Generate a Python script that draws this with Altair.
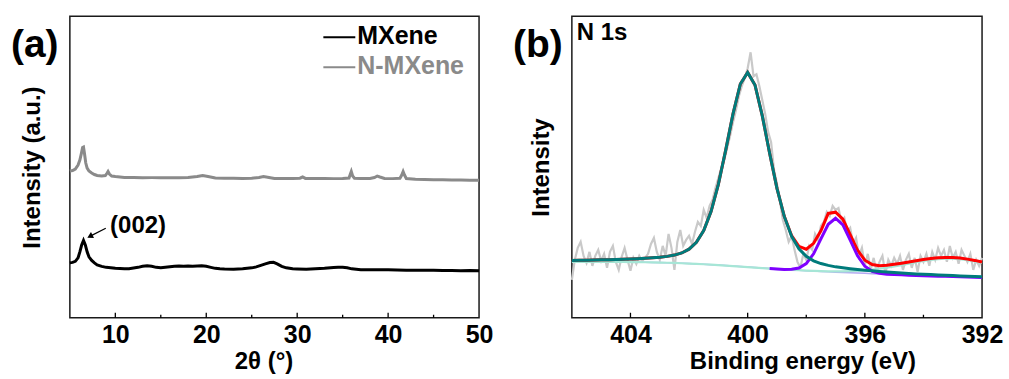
import altair as alt
import pandas as pd

# ---------------- (a) XRD data (2theta in degrees, intensity in arbitrary units) ----------------
mxene_pts = [(5.0, 55), (5.3, 55.5), (5.6, 56.5), (5.9, 60), (6.1, 66), (6.3, 73), (6.5, 77.5),
             (6.7, 73), (6.9, 66), (7.1, 61), (7.4, 57.5), (7.7, 55), (8.0, 53), (8.5, 51.5),
             (9.0, 50.5), (9.5, 50), (10.0, 49.5), (10.5, 49.3), (11.0, 49), (11.5, 49.2),
             (12.0, 49.8), (12.5, 50.5), (13.0, 51.5), (13.5, 52), (14.0, 51.5), (14.5, 50.5),
             (15.0, 50), (15.5, 50.5), (16.0, 51), (16.5, 51.5), (17.0, 51.8), (17.5, 51.5),
             (18.0, 51.8), (18.5, 51.5), (19.0, 51.8), (19.5, 52), (20.0, 51.5), (20.5, 50.5),
             (21.0, 49.5), (21.5, 49), (22.0, 48.8), (23.0, 48.7), (24.0, 49), (24.5, 49.5),
             (25.0, 50), (25.5, 51), (26.0, 52.5), (26.5, 54), (27.0, 55.3), (27.4, 55.5),
             (27.8, 54), (28.3, 51.5), (28.8, 50), (29.5, 49), (30.0, 48.8), (31.0, 48.6),
             (32.0, 49), (33.0, 49.5), (34.0, 50.3), (34.5, 50.5), (35.0, 50.5), (35.5, 50),
             (36.0, 49), (37.0, 48.2), (38.0, 48), (39.0, 48), (40.0, 48), (41.0, 47.8),
             (42.0, 47.7), (43.0, 47.5), (44.0, 47.6), (45.0, 47.5), (46.0, 47.3), (47.0, 47.4),
             (48.0, 47.2), (49.0, 47.3), (50.0, 47)]

nmxene_pts = [(5.0, 147), (5.3, 147.5), (5.6, 149), (5.9, 153), (6.1, 158), (6.25, 164),
              (6.4, 170.5), (6.5, 171), (6.6, 165), (6.75, 155), (6.9, 150), (7.1, 147),
              (7.4, 145), (7.7, 143.5), (8.0, 142.5), (8.5, 142), (8.9, 142.5), (9.1, 145),
              (9.2, 146.5), (9.35, 144), (9.6, 142), (10.0, 141.5), (11.0, 140.5), (12.0, 140.5),
              (13.0, 140.3), (14.0, 140.4), (15.0, 140.3), (16.0, 140.2), (17.0, 140.2),
              (18.0, 140.5), (19.0, 141.5), (19.6, 142.5), (20.2, 141.5), (21.0, 140),
              (22.0, 139.7), (23.0, 139.7), (24.0, 139.6), (25.0, 139.7), (25.8, 140.5),
              (26.3, 141.5), (26.9, 140.5), (27.5, 139.5), (28.5, 139.5), (29.5, 139.5),
              (30.3, 139.8), (30.6, 141), (30.9, 139.6), (32.0, 139.5), (33.0, 139.5),
              (34.0, 139.4), (35.0, 139.5), (35.7, 140), (35.85, 144), (35.95, 146.5),
              (36.1, 142), (36.3, 139.8), (37.0, 139.5), (38.0, 139.5), (38.5, 140.5),
              (38.8, 142), (39.1, 141), (39.6, 139.6), (40.5, 139.4), (41.3, 139.7),
              (41.5, 143), (41.65, 146.5), (41.8, 143), (42.0, 139.5), (43.0, 138.8),
              (44.0, 138.5), (45.0, 138.3), (46.0, 138.2), (47.0, 138), (48.0, 137.9),
              (49.0, 137.8), (50.0, 137.7)]

xrd_major_ticks = [10, 20, 30, 40, 50]
xrd_minor_ticks = [15, 25, 35, 45]
peak_label = {"x": 12.5, "y": 92, "text": "(002)"}
arrow_from = {"x": 8.95, "y": 89.7}
arrow_to = {"x": 7.3, "y": 82.0}

# ---------------- (b) XPS N 1s data ----------------
fit_energy = [round(406 - 0.25 * i, 2) for i in range(57)]
fit_background = [56.0, 56.0, 56.0, 56.0, 56.0, 55.95, 55.9, 55.85, 55.8, 55.7, 55.6, 55.45, 55.3,
                  55.1, 54.9, 54.6, 54.3, 53.95, 53.6, 53.2, 52.8, 52.3, 51.8, 51.3, 50.8, 50.3,
                  49.8, 49.3, 48.8, 48.35, 47.9, 47.5, 47.1, 46.75, 46.4, 46.05, 45.7, 45.4, 45.1,
                  44.8, 44.5, 44.2, 43.9, 43.6, 43.3, 43.0, 42.7, 42.45, 42.2, 41.95, 41.7, 41.45,
                  41.2, 40.95, 40.7, 40.45, 40.2]
fit_peak_main = [57.4, 57.5, 57.7, 57.8, 58.0, 58.15, 58.4, 58.65, 58.9, 59.2, 59.6, 60.05, 60.6,
                 61.5, 62.8, 64.9, 68.7, 75.55, 87.3, 106.4, 133.7, 167.9, 204.3, 234.2, 245.8,
                 233.2, 202.3, 164.9, 129.7, 101.55, 81.6, 69.1, 61.5, 57.05, 54.3, 52.45, 51.0,
                 50.0, 49.1, 48.3, 47.6, 47.0, 46.4, 45.8, 45.3, 44.8, 44.4, 43.95, 43.6, 43.25,
                 42.9, 42.55, 42.25, 41.95, 41.65, 41.35, 41.0]
fit_peak_low = [56.0, 56.0, 56.0, 56.0, 56.0, 55.95, 55.9, 55.85, 55.8, 55.7, 55.6, 55.45, 55.3,
                55.1, 54.9, 54.6, 54.3, 53.95, 53.6, 53.2, 52.8, 52.3, 51.8, 51.3, 50.8, 50.3,
                49.8, 49.3, 48.8, 48.45, 48.5, 49.8, 54.2, 64.05, 79.0, 93.65, 99.7, 93.0, 77.7,
                62.1, 51.6, 46.5, 44.5, 43.7, 43.3, 43.0, 42.7, 42.45, 42.2, 41.95, 41.7, 41.45,
                41.2, 40.95, 40.7, 40.45, 40.2]
fit_peak_broad = [56.0, 56.0, 56.0, 56.0, 56.0, 55.95, 55.9, 55.85, 55.8, 55.7, 55.6, 55.45, 55.3,
                  55.1, 54.9, 54.6, 54.3, 53.95, 53.6, 53.2, 52.8, 52.3, 51.8, 51.3, 50.8, 50.3,
                  49.8, 49.3, 48.8, 48.38, 47.95, 47.6, 47.23, 46.96, 46.73, 46.55, 46.46, 46.5,
                  46.7, 47.0, 47.5, 48.2, 49.1, 50.2, 51.5, 52.8, 54.2, 55.65, 57.0, 58.05, 58.8,
                  59.25, 59.2, 58.75, 57.8, 56.55, 55.0]
fit_envelope = [57.4, 57.5, 57.7, 57.8, 58.0, 58.15, 58.4, 58.65, 58.9, 59.2, 59.6, 60.05, 60.6,
                61.5, 62.8, 64.9, 68.7, 75.55, 87.3, 106.4, 133.7, 167.9, 204.3, 234.2, 245.8,
                233.2, 202.3, 164.9, 129.7, 101.65, 82.25, 71.5, 68.7, 74.6, 87.2, 104.55, 105.8,
                98.7, 83.3, 67.8, 57.7, 53.3, 52.2, 52.5, 53.5, 54.6, 55.9, 57.15, 58.4, 59.35,
                60.0, 60.35, 60.25, 59.75, 58.75, 57.45, 55.8]

raw_energy = [round(406 - 0.1 * i, 1) for i in range(141)]
raw_intensity = [
    38, 58, 70, 76, 62, 55, 66, 52, 62, 68,            # 406.0 - 405.1
    57, 64, 50, 66, 72, 56, 48, 61, 70, 58,            # 405.0 - 404.1
    47, 60, 54, 62, 57, 60, 64, 74, 80, 66,            # 404.0 - 403.1
    58, 72, 62, 84, 70, 48, 76, 88, 72, 78,            # 403.0 - 402.1
    82, 74, 86, 96, 92, 108, 100, 112, 118, 130,       # 402.0 - 401.1
    140, 150, 158, 170, 182, 196, 208, 222, 232, 240,  # 401.0 - 400.1
    250, 266, 242, 244, 232, 218, 204, 186, 176, 148,  # 400.0 - 399.1
    134, 118, 98, 88, 76, 82, 68, 56, 50, 64,          # 399.0 - 398.1
    58, 72, 68, 84, 78, 92, 96, 106, 102, 112,         # 398.0 - 397.1
    108, 110, 96, 100, 86, 90, 74, 80, 62, 70,         # 397.0 - 396.1
    52, 64, 48, 60, 46, 56, 62, 44, 58, 52,            # 396.0 - 395.1
    60, 54, 62, 48, 58, 64, 50, 60, 46, 62,            # 395.0 - 394.1
    56, 64, 52, 66, 58, 70, 62, 68, 56, 72,            # 394.0 - 393.1
    60, 66, 54, 68, 62, 56, 64, 48, 58, 52,            # 393.0 - 392.1
    60]                                                # 392.0

xps_major_ticks = [404, 400, 396, 392]
xps_minor_ticks = [402, 398, 394]

# ---------------- styling ----------------
FONT = "Liberation Sans"
W1, W2, H = 410, 411, 302
one = pd.DataFrame({"k": [0]})

yscale = alt.Scale(domain=[0, 302], nice=False, zero=False)
xs_a = alt.Scale(domain=[5, 50], nice=False, zero=False)
xs_b = alt.Scale(domain=[392, 406], reverse=True, nice=False, zero=False)


def xaxis(title, values, title_x):
    return alt.Axis(title=title, values=values, ticks=False, tickSize=0, domain=False, grid=False,
                    labelPadding=5, labelFontSize=25, labelFontWeight="bold", labelFlush=False,
                    labelColor="black", titleFontSize=24, titleFontWeight="bold",
                    titleColor="black", titlePadding=2, titleX=title_x)


def yaxis(title, pad):
    return alt.Axis(title=title, labels=False, ticks=False, domain=False, grid=False,
                    titleFontSize=24, titleFontWeight="bold", titleColor="black",
                    titlePadding=pad)


AX_A = xaxis("2θ (°)", xrd_major_ticks, 194)
AY_A = yaxis("Intensity (a.u.)", 25)
AX_B = xaxis("Binding energy (eV)", xps_major_ticks, 231)
AY_B = yaxis("Intensity", 18)


def ticks_layer(vals, scale, ax, length):
    return alt.Chart(pd.DataFrame({"x": vals})).mark_rule(color="black", strokeWidth=1.3).encode(
        x=alt.X("x:Q", scale=scale, axis=ax), y=alt.value(H), y2=alt.value(H - length))


def text_layer(txt, x, y, size, color="black", align="left"):
    return alt.Chart(one).mark_text(align=align, baseline="middle", fontSize=size,
                                    fontWeight="bold", color=color, font=FONT).encode(
        x=alt.value(x), y=alt.value(y), text=alt.value(txt))


def rule_px(x1, x2, y, color):
    return alt.Chart(one).mark_rule(color=color, strokeWidth=2).encode(
        x=alt.value(x1), x2=alt.value(x2), y=alt.value(y))


# ---------------- panel (a) ----------------
mx = pd.DataFrame(mxene_pts, columns=["x", "y"])
nmx = pd.DataFrame(nmxene_pts, columns=["x", "y"])


def xy_a(chart):
    return chart.encode(x=alt.X("x:Q", scale=xs_a, axis=AX_A),
                        y=alt.Y("y:Q", scale=yscale, axis=AY_A))


line_mx = xy_a(alt.Chart(mx).mark_line(color="black", strokeWidth=3))
line_nmx = xy_a(alt.Chart(nmx).mark_line(color="#8a8a8a", strokeWidth=3))
arrow_line = xy_a(alt.Chart(pd.DataFrame([arrow_from, arrow_to])).mark_line(
    color="black", strokeWidth=1.3))
arrow_head = xy_a(alt.Chart(pd.DataFrame([arrow_to])).mark_point(
    shape="triangle", filled=True, size=45, angle=243, color="black", opacity=1))
label_002 = xy_a(alt.Chart(pd.DataFrame([peak_label])).mark_text(
    fontSize=24, fontWeight="bold", font=FONT, color="black")).encode(text="text:N")

panel_a = alt.layer(
    line_nmx, line_mx,
    ticks_layer(xrd_major_ticks[:-1], xs_a, AX_A, 5), ticks_layer(xrd_minor_ticks, xs_a, AX_A, 3),
    arrow_line, arrow_head, label_002,
    rule_px(254, 286, 21, "black"), text_layer("MXene", 288, 20, 25),
    rule_px(254, 286, 51, "#8a8a8a"), text_layer("N-MXene", 288, 50, 25, color="#8a8a8a"),
    text_layer("(a)", -59, 29, 39),
).properties(width=W1, height=H)

# ---------------- panel (b) ----------------
fit = pd.DataFrame({"x": fit_energy, "bg": fit_background, "main": fit_peak_main,
                    "low": fit_peak_low, "broad": fit_peak_broad, "env": fit_envelope})
raw = pd.DataFrame({"x": raw_energy, "y": raw_intensity})


def fit_line(col, color, width, data=fit):
    return alt.Chart(data).mark_line(color=color, strokeWidth=width).encode(
        x=alt.X("x:Q", scale=xs_b, axis=AX_B),
        y=alt.Y(f"{col}:Q", scale=yscale, axis=AY_B))


panel_b = alt.layer(
    fit_line("y", "#c9c9c9", 2.2, data=raw),
    fit_line("bg", "#b3a8f2", 1.5),
    fit_line("broad", "#a6e6d6", 2.2),
    fit_line("env", "#ff0000", 3),
    fit_line("low", "#7f00ff", 3, data=fit[fit["x"] <= 399.25]),
    fit_line("main", "#007b7b", 3),
    ticks_layer(xps_major_ticks[:-1], xs_b, AX_B, 5), ticks_layer(xps_minor_ticks, xs_b, AX_B, 3),
    text_layer("N 1s", 5, 17, 24),
    text_layer("(b)", -59, 29, 39),
).properties(width=W2, height=H)

chart = alt.hconcat(panel_a, panel_b, spacing=93, bounds="flush").properties(
    padding={"left": 10, "top": 15, "right": 5, "bottom": 5}
).configure(font=FONT, background="white").configure_view(stroke="#1a1a1a", strokeWidth=1.5)

chart.save("out.html", embed_options={"renderer": "svg", "actions": False})
